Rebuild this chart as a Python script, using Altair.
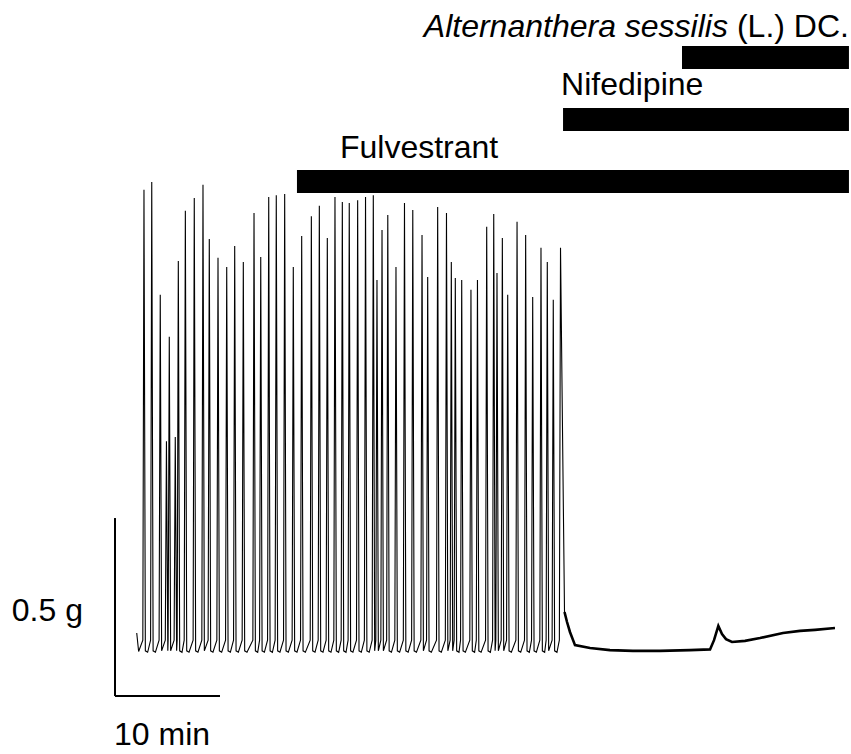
import altair as alt
import pandas as pd

# ---- data (time in min, force in g above baseline) ----
peak_time = [2.76, 3.50, 4.31, 4.90, 5.17, 5.74, 6.03, 6.70, 7.55, 8.38, 8.98, 9.81, 10.64, 11.40,
             12.22, 13.24, 13.88, 14.64, 15.36, 16.16, 16.98, 17.78, 18.70, 19.46, 20.22, 20.95,
             21.65, 22.31, 23.11, 23.86, 24.60, 24.95, 25.43, 25.98, 26.76, 27.57, 28.36, 29.24,
             29.78, 30.73, 31.57, 32.03, 32.41, 33.02, 33.90, 34.52, 35.40, 36.07, 36.38, 36.89,
             37.40, 38.29, 39.11, 39.78, 40.57, 41.17, 41.74, 42.43]
peak_amp = [1.287, 1.309, 0.992, 0.581, 0.874, 0.593, 1.087, 1.228, 1.264, 1.301, 1.149, 1.096, 1.070, 1.129,
            1.084, 1.222, 1.098, 1.267, 1.272, 1.275, 1.070, 1.157, 1.213, 1.242, 1.152, 1.267,
            1.253, 1.250, 1.258, 1.267, 1.272, 1.034, 1.174, 1.216, 1.070, 1.250, 1.230, 1.160,
            1.042, 1.239, 1.222, 1.084, 1.039, 1.034, 1.006, 1.034, 1.183, 1.219, 1.053, 1.152,
            0.992, 1.197, 1.160, 0.986, 1.124, 1.084, 0.978, 1.124]

start_time = [2.07, 2.25]
start_g = [0.042, -0.010]

post_time = [42.81, 43.05, 43.33, 43.81, 45.24, 47.14, 49.33, 51.90, 54.76, 56.67, 57.05, 57.46,
             57.81, 58.19, 58.76, 60.00, 61.43, 63.62, 65.24, 66.67, 68.57]
post_g = [0.101, 0.073, 0.045, 0.008, 0.000, -0.006, -0.008, -0.008, -0.006, -0.004, 0.022, 0.062,
          0.039, 0.025, 0.017, 0.020, 0.028, 0.042, 0.048, 0.051, 0.056]

drug_names = ["Fulvestrant", "Nifedipine", "Alternanthera sessilis"]
drug_start = [17.33, 42.67, 54.0]
drug_end = 69.9

scale_force = 0.5   # g
scale_time = 10     # min

# ---- build the fast trace (contraction spikes) ----
rows = [(t, g) for t, g in zip(start_time, start_g)]
n = len(peak_time)
for i, (t, a) in enumerate(zip(peak_time, peak_amp)):
    if t - 0.11 > rows[-1][0]:
        rows.append((t - 0.11, 0.022))
    rows.append((t, a))
    if i < n - 1:
        rows.append((t + 0.13, -0.008))
        if peak_time[i + 1] - t > 0.6:
            rows.append((t + 0.35, -0.012))
rows.append((post_time[0], post_g[0]))
fast = pd.DataFrame(rows, columns=["t", "g"])
fast["o"] = range(len(fast))

slow = pd.DataFrame({"t": post_time, "g": post_g})
slow["o"] = range(len(slow))

xs = alt.Scale(domain=[-10.952, 70.095], nice=False, zero=False)
ys = alt.Scale(domain=[-0.2978, 1.8202], nice=False, zero=False)

FONT = "Liberation Sans"
FS = 32

fast_line = alt.Chart(fast).mark_line(color="black", strokeWidth=1.1).encode(
    x=alt.X("t:Q", scale=xs, axis=None),
    y=alt.Y("g:Q", scale=ys, axis=None),
    order="o:Q",
)
slow_line = alt.Chart(slow).mark_line(color="black", strokeWidth=2.6).encode(
    x=alt.X("t:Q", scale=xs, axis=None),
    y=alt.Y("g:Q", scale=ys, axis=None),
    order="o:Q",
)

# ---- drug bars ----
bar_tops = [170, 108, 46]
bar_h = 23
drug_df = pd.DataFrame({"name": drug_names, "t0": drug_start, "t1": [drug_end] * 3})
bars = []
for i in range(3):
    bars.append(
        alt.Chart(drug_df.iloc[[i]]).mark_rect(color="black").encode(
            x=alt.X("t0:Q", scale=xs, axis=None),
            x2="t1:Q",
            y=alt.value(bar_tops[i]),
            y2=alt.value(bar_tops[i] + bar_h),
        )
    )

lab_fulv = alt.Chart(drug_df.iloc[[0]]).mark_text(
    align="left", baseline="alphabetic", dx=43, font=FONT, fontSize=FS, color="black"
).encode(x=alt.X("t0:Q", scale=xs, axis=None), y=alt.value(158), text="name:N")
lab_nif = alt.Chart(drug_df.iloc[[1]]).mark_text(
    align="left", baseline="alphabetic", dx=-2, font=FONT, fontSize=FS, color="black"
).encode(x=alt.X("t0:Q", scale=xs, axis=None), y=alt.value(95), text="name:N")
lab_alt_it = alt.Chart(drug_df.iloc[[2]]).mark_text(
    align="right", baseline="alphabetic", dx=-121, font=FONT, fontSize=FS, fontStyle="italic", color="black"
).encode(x=alt.X("t1:Q", scale=xs, axis=None), y=alt.value(37), text="name:N")
lab_alt_rest = alt.Chart(pd.DataFrame({"t1": [drug_end], "name": ["(L.) DC."]})).mark_text(
    align="right", baseline="alphabetic", dx=0, font=FONT, fontSize=FS, color="black"
).encode(x=alt.X("t1:Q", scale=xs, axis=None), y=alt.value(37), text="name:N")

# ---- scale bar ----
sb_t0, sb_g0 = 0.0, -0.135
sb_v = alt.Chart(pd.DataFrame({"t": [sb_t0], "g": [sb_g0], "g2": [sb_g0 + scale_force]})).mark_rule(
    color="black", strokeWidth=2
).encode(x=alt.X("t:Q", scale=xs, axis=None), y=alt.Y("g:Q", scale=ys, axis=None), y2="g2:Q")
sb_h = alt.Chart(pd.DataFrame({"t": [sb_t0], "t2": [sb_t0 + scale_time], "g": [sb_g0]})).mark_rule(
    color="black", strokeWidth=2
).encode(x=alt.X("t:Q", scale=xs, axis=None), x2="t2:Q", y=alt.Y("g:Q", scale=ys, axis=None))
sb_lab_g = alt.Chart(pd.DataFrame({"t": [sb_t0], "g": [sb_g0 + scale_force / 2],
                                   "txt": [f"{scale_force} g"]})).mark_text(
    align="right", baseline="alphabetic", dx=-32, dy=14, font=FONT, fontSize=FS, color="black"
).encode(x=alt.X("t:Q", scale=xs, axis=None), y=alt.Y("g:Q", scale=ys, axis=None), text="txt:N")
sb_lab_t = alt.Chart(pd.DataFrame({"t": [sb_t0], "g": [sb_g0], "txt": [f"{scale_time} min"]})).mark_text(
    align="left", baseline="alphabetic", dx=-1, dy=49, font=FONT, fontSize=FS, color="black"
).encode(x=alt.X("t:Q", scale=xs, axis=None), y=alt.Y("g:Q", scale=ys, axis=None), text="txt:N")

chart = alt.layer(
    fast_line, slow_line, *bars, lab_fulv, lab_nif, lab_alt_it, lab_alt_rest,
    sb_v, sb_h, sb_lab_g, sb_lab_t
).properties(
    width=851, height=754, padding=0, autosize=alt.AutoSizeParams(type="none"), background="white"
).configure_view(stroke=None)

chart.save("out.html", embed_options={"renderer": "svg", "actions": False})
